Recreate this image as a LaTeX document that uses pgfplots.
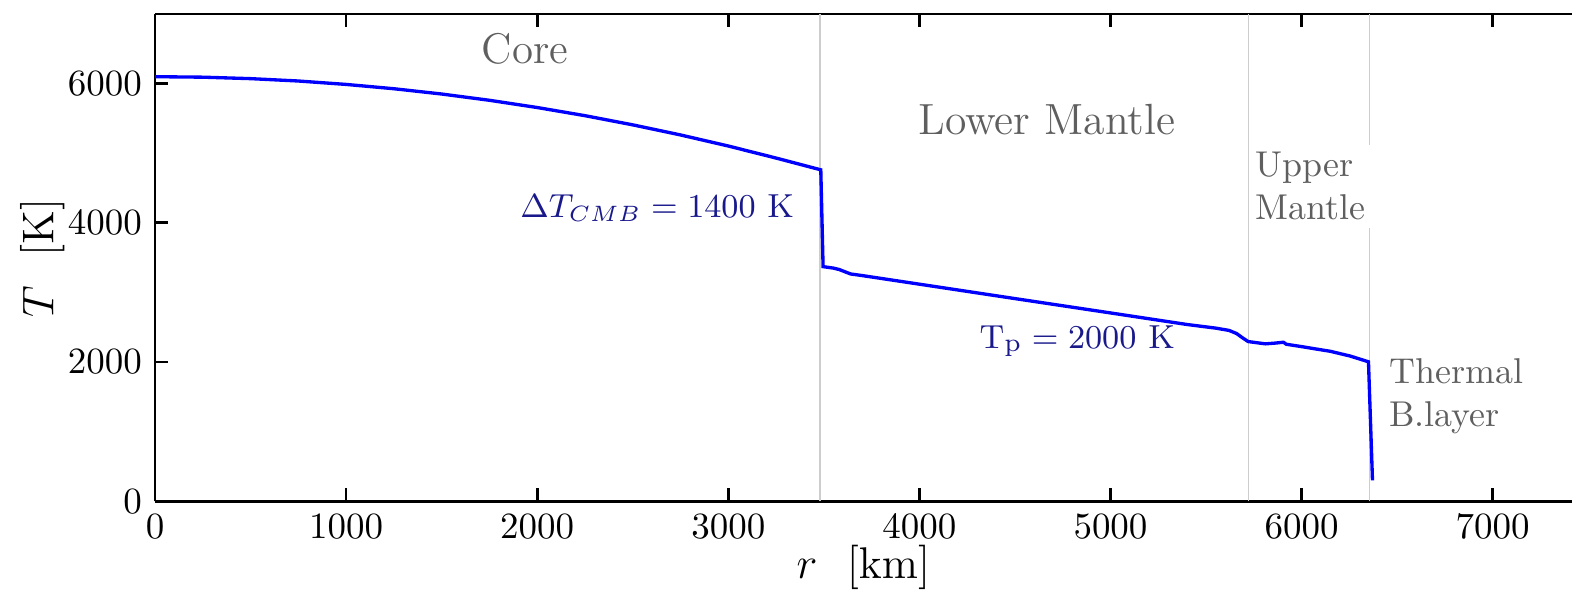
\documentclass[border=0pt]{standalone}
\usepackage{pgfplots}
\pgfplotsset{compat=1.18}
\definecolor{curveblue}{rgb}{0,0,1}
\definecolor{annblue}{RGB}{25,25,140}
\definecolor{txtgray}{RGB}{95,95,95}
\definecolor{gridgray}{RGB}{205,205,205}
\begin{document}
\begin{tikzpicture}
\begin{axis}[
  name=ax,
  scale only axis, width=383pt, height=131.7pt,
  xmin=0, xmax=7415, ymin=0, ymax=7000,
  axis x line*=box, axis y line*=left,
  xtick={0,1000,...,7000}, ytick={0,2000,4000,6000},
  scaled ticks=false,
  /pgf/number format/1000 sep={},
  tick align=inside,
  major tick length=3.5pt,
  axis line style={line width=0.75pt},
  every tick/.style={black, line width=0.75pt},
  tick label style={font=\normalsize},
  xlabel={$r\ \ [\mathrm{km}]$},
  ylabel={$T\ \ [\mathrm{K}]$},
  label style={font=\fontsize{12.2}{14.6}\selectfont},
  xlabel style={at={(axis description cs:0.5,0)}, anchor=center, yshift=-17.8pt},
  ylabel style={at={(axis description cs:-0.0796,0.5)}, anchor=center},
  clip=false,
]
\draw[gridgray, line width=0.4pt] (axis cs:3480,0) -- (axis cs:3480,7000);
\draw[gridgray, line width=0.4pt] (axis cs:6355,0) -- (axis cs:6355,7000);
\node[font=\fontsize{9.7}{11.6}\selectfont, text=txtgray, fill=white, inner sep=2pt, align=left, anchor=base west] at (axis cs:5716,4043) {Upper\\Mantle};
\draw[gridgray, line width=0.4pt] (axis cs:5723,0) -- (axis cs:5723,7000);

\addplot[curveblue, line width=0.9pt, mark=none] coordinates {
(0,6100) (250,6093) (500,6072) (750,6038) (1000,5989) (1250,5927) (1500,5851)
(1750,5761) (2000,5657) (2250,5540) (2500,5408) (2750,5263) (3000,5104)
(3250,4931) (3484,4762) (3496,3371) (3550,3350) (3580,3330) (3640,3266)
(3700,3243) (4000,3119) (4500,2912) (5000,2706) (5400,2540) (5550,2488)
(5620,2455) (5660,2410) (5690,2350) (5720,2295) (5760,2280) (5810,2262)
(5860,2272) (5905,2285) (5920,2256) (6000,2222) (6100,2177) (6150,2155)
(6255,2086) (6350,2004) (6371,300)
};

\node[font=\fontsize{11.6}{13.9}\selectfont, text=txtgray, anchor=base] at (axis cs:1936,6288) {Core};
\node[font=\fontsize{11.8}{14.2}\selectfont, text=txtgray, anchor=base] at (axis cs:4667,5273) {Lower Mantle};
\node[font=\fontsize{9.2}{11}\selectfont, text=annblue, inner sep=0pt, anchor=base east] at (axis cs:3348,4072) {$\Delta T_{CMB} = 1400\ \mathrm{K}$};
\node[font=\fontsize{9.4}{11.3}\selectfont, text=annblue, inner sep=0pt, anchor=base west] at (axis cs:4311,2201) {$\mathrm{T_p} = 2000\ \mathrm{K}$};
\node[font=\fontsize{9.7}{11.6}\selectfont, text=txtgray, inner sep=0pt, align=left, anchor=base west] at (axis cs:6456,1079) {Thermal\\B.layer};
\end{axis}
\pgfresetboundingbox
\path[use as bounding box] ([shift={(-41.9pt,-23.8pt)}]ax.south west) rectangle ([shift={(0pt,3.8pt)}]ax.north east);
\end{tikzpicture}
\end{document}
